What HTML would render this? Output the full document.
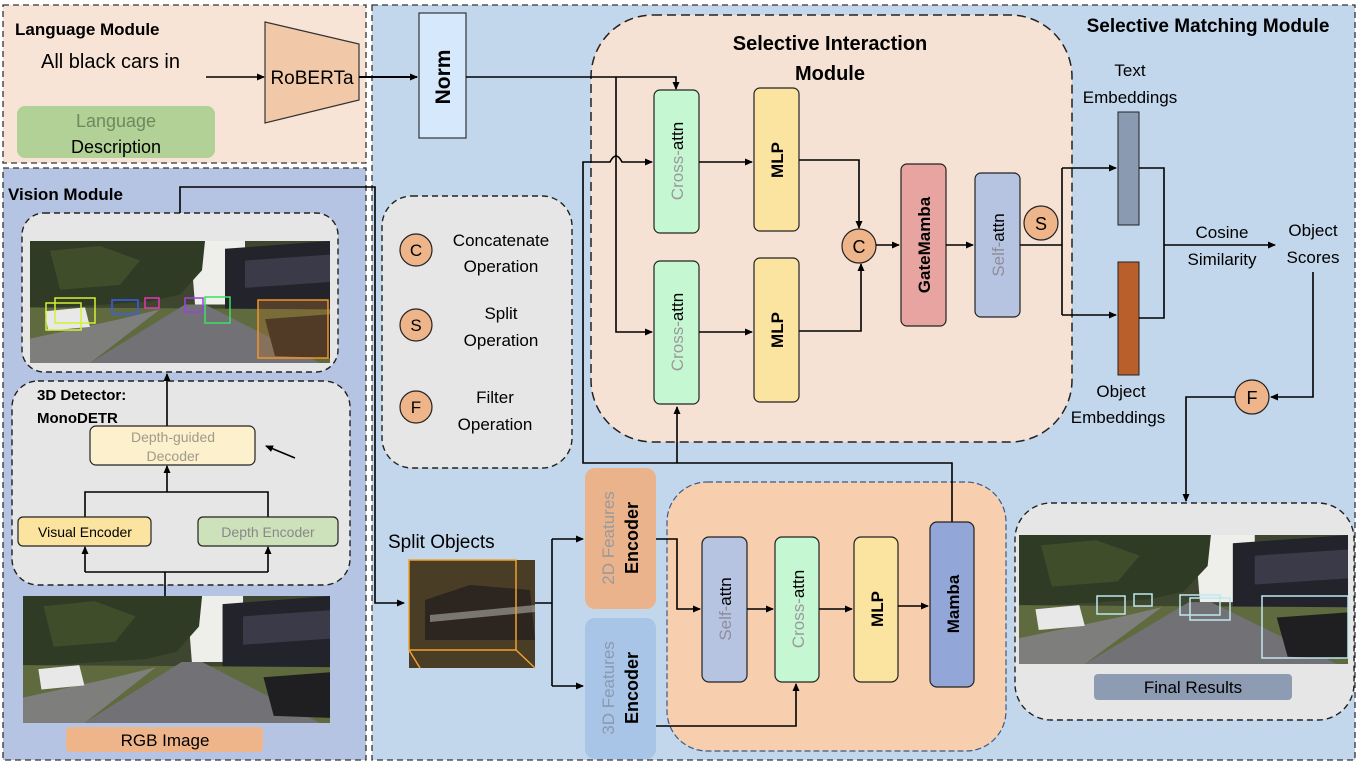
<!DOCTYPE html>
<html><head><meta charset="utf-8"><style>
html,body{margin:0;padding:0;background:#fff;}
svg{display:block;font-family:"Liberation Sans",sans-serif;}
.b{font-weight:bold}
</style></head><body>
<svg width="1359" height="766" viewBox="0 0 1359 766" xmlns="http://www.w3.org/2000/svg">
<defs>
<marker id="a" markerWidth="8" markerHeight="8" refX="7" refY="4" orient="auto" markerUnits="userSpaceOnUse"><path d="M0,0.5 L8,4 L0,7.5 Z" fill="#000"/></marker>
<symbol id="street" viewBox="0 0 300 125" preserveAspectRatio="none">
<rect width="300" height="125" fill="#3e4630"/>
<path d="M160,0 L215,0 L215,65 L165,65 Z" fill="#eeeeea"/>
<path d="M0,0 L175,0 L172,30 L150,55 L120,62 L0,70 Z" fill="#2f3b24"/>
<path d="M20,10 L70,5 L110,20 L90,45 L30,50 Z" fill="#46552f" opacity="0.7"/>
<path d="M195,8 L300,0 L300,72 L195,72 Z" fill="#23232c"/>
<path d="M215,20 L300,14 L300,42 L215,48 Z" fill="#3a3a48"/>
<path d="M0,68 L300,70 L300,125 L0,125 Z" fill="#5f6b3e"/>
<path d="M60,125 L155,65 L175,65 L290,125 Z" fill="#727276"/>
<path d="M0,100 L90,80 L130,70 L60,125 L0,125 Z" fill="#7e7e7c"/>
<path d="M15,72 L55,68 L60,88 L18,92 Z" fill="#e8e8e8"/>
<path d="M235,80 L300,75 L300,120 L245,118 Z" fill="#1f1f22"/>
</symbol>
</defs>

<rect x="3" y="5" width="363" height="158" fill="#f7e4d6" stroke="#333" stroke-width="1.3" stroke-dasharray="6,4"/>
<rect x="3" y="168" width="363" height="592" fill="#b6c4e3" stroke="#333" stroke-width="1.3" stroke-dasharray="6,4"/>
<rect x="372" y="5" width="983" height="755" fill="#c3d7ec" stroke="#333" stroke-width="1.3" stroke-dasharray="6,4"/>

<text x="15" y="35" class="b" font-size="17">Language Module</text>
<text x="41" y="68" font-size="20">All black cars in</text>
<line x1="206" y1="77" x2="264" y2="77" stroke="#000" stroke-width="1.6" marker-end="url(#a)"/>
<path d="M265,22 L359,44 L359,100 L265,123 Z" fill="#f2c9a8" stroke="#333" stroke-width="1.2"/>
<text x="312" y="84" font-size="19" text-anchor="middle">RoBERTa</text>
<rect x="17" y="106" width="198" height="52" rx="8" fill="#b2d197"/>
<text x="116" y="127" font-size="18" text-anchor="middle" fill="#6d8a5c">Language</text>
<text x="116" y="153" font-size="18" text-anchor="middle">Description</text>
<line x1="359" y1="77" x2="417" y2="77" stroke="#000" stroke-width="2" marker-end="url(#a)"/>

<rect x="419" y="13" width="47" height="125" fill="#d6e8fb" stroke="#333" stroke-width="1.2"/>
<text transform="translate(450,77) rotate(-90)" font-size="21" class="b" text-anchor="middle">Norm</text>

<text x="8" y="200" class="b" font-size="17">Vision Module</text>
<rect x="22" y="213" width="316" height="159" rx="22" fill="#e6e6e6" stroke="#222" stroke-width="1.4" stroke-dasharray="6,4"/>
<use href="#street" x="30" y="241" width="300" height="122"/>
<g fill="none" stroke-width="1.5">
<rect x="46" y="303" width="35" height="27" stroke="#d6f033"/><rect x="55" y="298" width="40" height="25" stroke="#d6f033"/>
<rect x="112" y="300" width="26" height="14" stroke="#3b5cf0"/><rect x="145" y="298" width="14" height="10" stroke="#e03ab0"/>
<rect x="185" y="298" width="18" height="14" stroke="#a040e0"/><rect x="205" y="297" width="25" height="26" stroke="#3de060"/>
<rect x="258" y="300" width="70" height="58" fill="#b07030" fill-opacity="0.35" stroke="#f0962a"/>
</g>
<polyline points="180,213 180,187 375,187 375,603 404,603" fill="none" stroke="#000" stroke-width="1.6" marker-end="url(#a)"/>

<rect x="12" y="381" width="338" height="204" rx="26" fill="#e6e6e6" stroke="#222" stroke-width="1.4" stroke-dasharray="6,4"/>
<text x="37" y="400" class="b" font-size="15">3D Detector:</text>
<text x="37" y="423" class="b" font-size="15">MonoDETR</text>
<line x1="167" y1="426" x2="167" y2="374" stroke="#000" stroke-width="1.6" marker-end="url(#a)"/>
<rect x="90" y="426" width="165" height="39" rx="6" fill="#fcf0cd" stroke="#222" stroke-width="1.2"/>
<text x="173" y="442" font-size="14" text-anchor="middle" fill="#a09a88">Depth-guided</text>
<text x="173" y="461" font-size="14" text-anchor="middle" fill="#a09a88">Decoder</text>
<line x1="295" y1="458" x2="266" y2="446" stroke="#000" stroke-width="1.6" marker-end="url(#a)"/>
<polyline points="85,517 85,492 268,492 268,517" fill="none" stroke="#000" stroke-width="1.6"/>
<line x1="167" y1="492" x2="167" y2="466" stroke="#000" stroke-width="1.6" marker-end="url(#a)"/>
<rect x="18" y="517" width="133" height="29" rx="5" fill="#fbe4a0" stroke="#222" stroke-width="1.2"/>
<text x="85" y="537" font-size="14" text-anchor="middle">Visual Encoder</text>
<rect x="198" y="517" width="140" height="29" rx="5" fill="#cde2bb" stroke="#222" stroke-width="1.2"/>
<text x="268" y="537" font-size="14" text-anchor="middle" fill="#888">Depth Encoder</text>
<line x1="165" y1="597" x2="165" y2="572" stroke="#000" stroke-width="1.6"/>
<polyline points="85,572 268,572" fill="none" stroke="#000" stroke-width="1.6"/>
<line x1="85" y1="572" x2="85" y2="547" stroke="#000" stroke-width="1.6" marker-end="url(#a)"/>
<line x1="268" y1="572" x2="268" y2="547" stroke="#000" stroke-width="1.6" marker-end="url(#a)"/>
<use href="#street" x="23" y="596" width="307" height="127"/>
<rect x="66" y="727" width="197" height="25" rx="4" fill="#eeb48a"/>
<text x="165" y="746" font-size="17" text-anchor="middle">RGB Image</text>

<rect x="382" y="196" width="190" height="272" rx="30" fill="#e6e6e6" stroke="#222" stroke-width="1.4" stroke-dasharray="6,4"/>
<g font-size="17" text-anchor="middle">
<circle cx="416" cy="250" r="16" fill="#eeb48a" stroke="#222" stroke-width="1.2"/><text x="416" y="256">C</text>
<text x="501" y="246">Concatenate</text><text x="501" y="272">Operation</text>
<circle cx="416" cy="325" r="16" fill="#eeb48a" stroke="#222" stroke-width="1.2"/><text x="416" y="331">S</text>
<text x="501" y="319">Split</text><text x="501" y="346">Operation</text>
<circle cx="416" cy="407" r="16" fill="#eeb48a" stroke="#222" stroke-width="1.2"/><text x="416" y="413">F</text>
<text x="495" y="403">Filter</text><text x="495" y="430">Operation</text>
</g>

<rect x="591" y="15" width="481" height="427" rx="62" fill="#f6e2d4" stroke="#222" stroke-width="1.5" stroke-dasharray="9,5"/>
<text x="830" y="50" class="b" font-size="20" text-anchor="middle">Selective Interaction</text>
<text x="830" y="80" class="b" font-size="20" text-anchor="middle">Module</text>
<text x="1208" y="32" class="b" font-size="19" text-anchor="middle">Selective Matching Module</text>

<polyline points="466,77 676,77 676,89" fill="none" stroke="#000" stroke-width="1.6" marker-end="url(#a)"/>
<polyline points="616,77 616,332 652,332" fill="none" stroke="#000" stroke-width="1.6" marker-end="url(#a)"/>
<path d="M583,455 L583,162 L610,162 Q616,150 622,162 L652,162" fill="none" stroke="#000" stroke-width="1.6" marker-end="url(#a)"/>

<rect x="654" y="90" width="45" height="143" rx="6" fill="#c6f7d3" stroke="#222" stroke-width="1.2"/>
<text transform="translate(683,161) rotate(-90)" font-size="17" text-anchor="middle"><tspan fill="#9a9a9a">Cross-</tspan><tspan>attn</tspan></text>
<rect x="654" y="261" width="45" height="143" rx="6" fill="#c6f7d3" stroke="#222" stroke-width="1.2"/>
<text transform="translate(683,332) rotate(-90)" font-size="17" text-anchor="middle"><tspan fill="#9a9a9a">Cross-</tspan><tspan>attn</tspan></text>
<rect x="754" y="88" width="45" height="143" rx="6" fill="#fbe3a0" stroke="#222" stroke-width="1.2"/>
<text transform="translate(783,160) rotate(-90)" font-size="17" class="b" text-anchor="middle">MLP</text>
<rect x="754" y="258" width="45" height="144" rx="6" fill="#fbe3a0" stroke="#222" stroke-width="1.2"/>
<text transform="translate(783,330) rotate(-90)" font-size="17" class="b" text-anchor="middle">MLP</text>
<line x1="699" y1="162" x2="752" y2="162" stroke="#000" stroke-width="1.6" marker-end="url(#a)"/>
<line x1="699" y1="332" x2="752" y2="332" stroke="#000" stroke-width="1.6" marker-end="url(#a)"/>
<polyline points="799,160 859,160 859,228" fill="none" stroke="#000" stroke-width="1.6" marker-end="url(#a)"/>
<polyline points="799,331 861,331 861,264" fill="none" stroke="#000" stroke-width="1.6" marker-end="url(#a)"/>
<circle cx="859" cy="246" r="17" fill="#eeb48a" stroke="#222" stroke-width="1.2"/>
<text x="859" y="253" font-size="18" text-anchor="middle">C</text>
<line x1="876" y1="245" x2="899" y2="245" stroke="#000" stroke-width="1.6" marker-end="url(#a)"/>
<rect x="901" y="164" width="45" height="162" rx="6" fill="#e8a4a0" stroke="#222" stroke-width="1.2"/>
<text transform="translate(930,245) rotate(-90)" font-size="17" class="b" text-anchor="middle">GateMamba</text>
<line x1="946" y1="245" x2="973" y2="245" stroke="#000" stroke-width="1.6" marker-end="url(#a)"/>
<rect x="975" y="173" width="45" height="144" rx="6" fill="#b6c4e2" stroke="#222" stroke-width="1.2"/>
<text transform="translate(1004,245) rotate(-90)" font-size="17" text-anchor="middle"><tspan fill="#8e8e9a">Self-</tspan><tspan>attn</tspan></text>
<circle cx="1041" cy="223" r="17" fill="#eeb48a" stroke="#222" stroke-width="1.2"/>
<text x="1041" y="230" font-size="18" text-anchor="middle">S</text>
<polyline points="1020,245 1062,245" fill="none" stroke="#000" stroke-width="1.6"/>
<polyline points="1062,168 1062,315" fill="none" stroke="#000" stroke-width="1.6"/>
<line x1="1062" y1="168" x2="1116" y2="168" stroke="#000" stroke-width="1.6" marker-end="url(#a)"/>
<line x1="1062" y1="315" x2="1116" y2="315" stroke="#000" stroke-width="1.6" marker-end="url(#a)"/>

<rect x="1118" y="112" width="21" height="113" fill="#8a9ab0" stroke="#222" stroke-width="1"/>
<rect x="1118" y="262" width="21" height="113" fill="#b85f2c" stroke="#222" stroke-width="1"/>
<g font-size="17" text-anchor="middle">
<text x="1130" y="76">Text</text><text x="1130" y="103">Embeddings</text>
<text x="1121" y="397">Object</text><text x="1118" y="423">Embeddings</text>
<text x="1222" y="238">Cosine</text><text x="1222" y="265">Similarity</text>
<text x="1313" y="236">Object</text><text x="1313" y="263">Scores</text>
</g>
<polyline points="1139,168 1164,168 1164,318 1139,318" fill="none" stroke="#000" stroke-width="1.6"/>
<line x1="1164" y1="245" x2="1275" y2="245" stroke="#000" stroke-width="1.6" marker-end="url(#a)"/>
<polyline points="1313,272 1313,397 1271,397" fill="none" stroke="#000" stroke-width="1.6" marker-end="url(#a)"/>
<circle cx="1252" cy="397" r="17" fill="#eeb48a" stroke="#222" stroke-width="1.2"/>
<text x="1252" y="404" font-size="18" text-anchor="middle">F</text>
<polyline points="1235,397 1186,397 1186,501" fill="none" stroke="#000" stroke-width="1.6" marker-end="url(#a)"/>

<rect x="1015" y="503" width="339" height="217" rx="36" fill="#e6e6e6" stroke="#222" stroke-width="1.4" stroke-dasharray="6,4"/>
<use href="#street" x="1019" y="535" width="329" height="129"/>
<g fill="none" stroke="#bfe8ee" stroke-width="1.5">
<rect x="1097" y="596" width="28" height="18"/><rect x="1134" y="594" width="18" height="12"/>
<rect x="1180" y="595" width="40" height="20"/><rect x="1190" y="598" width="40" height="22"/>
<rect x="1262" y="596" width="86" height="62"/>
</g>
<rect x="1094" y="674" width="198" height="26" rx="4" fill="#8d9bb3"/>
<text x="1193" y="693" font-size="17" text-anchor="middle">Final Results</text>

<text x="388" y="548" font-size="19">Split Objects</text>
<rect x="409" y="560" width="126" height="108" fill="#4a3d25"/>
<path d="M425,600 L470,585 L530,590 L535,640 L425,640 Z" fill="#2c2520"/>
<path d="M430,615 L535,605 L535,612 L430,622 Z" fill="#9a9a90" opacity="0.7"/>
<g fill="none" stroke="#f0a030" stroke-width="1.5"><rect x="409" y="560" width="107" height="90"/><line x1="516" y1="650" x2="535" y2="668"/><line x1="409" y1="650" x2="420" y2="668"/></g>
<polyline points="535,603 552,603" fill="none" stroke="#000" stroke-width="1.6"/>
<line x1="552" y1="539" x2="552" y2="686" stroke="#000" stroke-width="1.6"/>
<line x1="552" y1="539" x2="583" y2="539" stroke="#000" stroke-width="1.6" marker-end="url(#a)"/>
<line x1="552" y1="686" x2="583" y2="686" stroke="#000" stroke-width="1.6" marker-end="url(#a)"/>

<rect x="667" y="482" width="339" height="269" rx="40" fill="#f7cfae" stroke="#3a5a8a" stroke-width="1.2" stroke-dasharray="6,3"/>
<rect x="585" y="468" width="71" height="141" rx="10" fill="#eab38b"/>
<text transform="translate(614,538) rotate(-90)" font-size="17" text-anchor="middle" fill="#9a9a9a">2D Features</text>
<text transform="translate(638,538) rotate(-90)" font-size="18" class="b" text-anchor="middle">Encoder</text>
<rect x="585" y="618" width="71" height="141" rx="10" fill="#a8c4e6"/>
<text transform="translate(614,688) rotate(-90)" font-size="17" text-anchor="middle" fill="#8a9ab0">3D Features</text>
<text transform="translate(638,688) rotate(-90)" font-size="18" class="b" text-anchor="middle">Encoder</text>

<polyline points="583,455 583,463 952,463 952,522" fill="none" stroke="#000" stroke-width="1.6"/>
<line x1="677" y1="463" x2="677" y2="407" stroke="#000" stroke-width="1.6" marker-end="url(#a)"/>

<polyline points="656,539 677,539 677,609 700,609" fill="none" stroke="#000" stroke-width="1.6" marker-end="url(#a)"/>
<rect x="702" y="537" width="45" height="145" rx="7" fill="#b6c4e2" stroke="#222" stroke-width="1.2"/>
<text transform="translate(731,609) rotate(-90)" font-size="17" text-anchor="middle"><tspan fill="#8e8e9a">Self-</tspan><tspan>attn</tspan></text>
<line x1="747" y1="609" x2="773" y2="609" stroke="#000" stroke-width="1.6" marker-end="url(#a)"/>
<rect x="775" y="537" width="44" height="145" rx="7" fill="#c6f7d3" stroke="#222" stroke-width="1.2"/>
<text transform="translate(804,609) rotate(-90)" font-size="17" text-anchor="middle"><tspan fill="#9a9a9a">Cross-</tspan><tspan>attn</tspan></text>
<line x1="819" y1="609" x2="852" y2="609" stroke="#000" stroke-width="1.6" marker-end="url(#a)"/>
<rect x="854" y="537" width="44" height="145" rx="7" fill="#fbe3a0" stroke="#222" stroke-width="1.2"/>
<text transform="translate(883,609) rotate(-90)" font-size="17" class="b" text-anchor="middle">MLP</text>
<line x1="898" y1="606" x2="928" y2="606" stroke="#000" stroke-width="1.6" marker-end="url(#a)"/>
<rect x="930" y="522" width="44" height="165" rx="7" fill="#92a7d7" stroke="#222" stroke-width="1.2"/>
<text transform="translate(959,604) rotate(-90)" font-size="17" class="b" text-anchor="middle">Mamba</text>
<polyline points="656,726 796,726 796,684" fill="none" stroke="#000" stroke-width="1.6" marker-end="url(#a)"/>
</svg>
</body></html>
